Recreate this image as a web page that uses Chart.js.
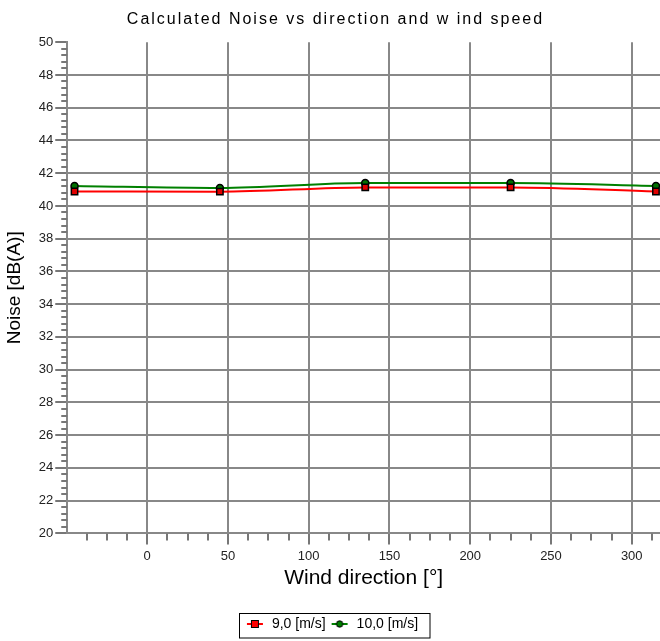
<!DOCTYPE html>
<html>
<head>
<meta charset="utf-8">
<script src="https://cdn.jsdelivr.net/npm/chart.js@4"></script>
<style>
  html, body { margin: 0; padding: 0; background: #fff; }
  #wrap { width: 660px; height: 641px; }
</style>
</head>
<body>
<div id="wrap"><canvas id="chart"></canvas></div>
<script>
// wind direction in degrees, noise in dB(A)
const directions = [-45, 45, 135, 225, 315];
const noise9 = [40.88, 40.87, 41.13, 41.13, 40.88];
const noise10 = [41.22, 41.1, 41.4, 41.4, 41.22];
const seriesNames = ['9,0 [m/s]', '10,0 [m/s]'];
const xTickValues = [0, 50, 100, 150, 200, 250, 300];
const yTickValues = [20, 22, 24, 26, 28, 30, 32, 34, 36, 38, 40, 42, 44, 46, 48, 50];

const FONT = "'Liberation Sans', Arial, sans-serif";

// small icon: short line with marker, used as legend point style
function legendIcon(color, shape) {
    const c = document.createElement('canvas');
    c.width = 22; c.height = 12;
    const g = c.getContext('2d');
    g.strokeStyle = color; g.lineWidth = 2;
    g.beginPath(); g.moveTo(4, 6); g.lineTo(20, 6); g.stroke();
    g.fillStyle = color; g.strokeStyle = '#000'; g.lineWidth = 1;
    if (shape === 'rect') {
        g.fillRect(8.5, 2.5, 7, 7); g.strokeRect(8.5, 2.5, 7, 7);
    } else {
        g.beginPath(); g.arc(12, 6, 3.2, 0, Math.PI * 2); g.fill(); g.stroke();
    }
    return c;
}

// the title in the original is set with wide letter spacing
const titleSpacing = {
    id: 'titleSpacing',
    beforeUpdate(chart) {
        const tb = chart.titleBlock;
        if (!tb || tb._spaced) return;
        const draw = tb.draw.bind(tb);
        tb.draw = function (area) {
            this.ctx.save();
            this.ctx.letterSpacing = '2px';
            this.ctx.translate(5, 0);
            draw(area);
            this.ctx.restore();
        };
        tb._spaced = true;
    }
};

const minorTicks = {
    id: 'minorTicks',
    afterDraw(chart) {
        const { ctx, scales: { x, y } } = chart;
        ctx.save();
        ctx.strokeStyle = '#777';
        ctx.lineWidth = 2;
        ctx.beginPath();
        for (let i = 1; i * 12.5 - 50 <= x.max; i++) {
            const v = i * 12.5 - 50;
            if (i % 4 === 0 || v < x.min) continue;
            const px = Math.round(x.getPixelForValue(v));
            ctx.moveTo(px, y.bottom); ctx.lineTo(px, y.bottom + 7);
        }
        for (let i = 1; i < 75; i++) {
            if (i % 5 === 0) continue;
            const py = Math.round(y.getPixelForValue(20 + i * 0.4));
            ctx.moveTo(x.left - 6, py); ctx.lineTo(x.left, py);
        }
        ctx.stroke();
        ctx.restore();
    }
};

const legendBox = {
    id: 'legendBox',
    afterDraw(chart) {
        const boxes = chart.legend.legendHitBoxes;
        if (!boxes || !boxes.length) return;
        const left = Math.min(...boxes.map(b => b.left));
        const right = Math.max(...boxes.map(b => b.left + b.width));
        const top = Math.min(...boxes.map(b => b.top));
        const bottom = Math.max(...boxes.map(b => b.top + b.height));
        const ctx = chart.ctx;
        ctx.save();
        ctx.strokeStyle = '#000';
        ctx.lineWidth = 1;
        const x0 = Math.round(left - 4) + 0.5;
        const y0 = Math.round(top - 4) + 0.5;
        ctx.strokeRect(x0, y0, Math.round(right + 12) - x0, Math.round(bottom + 7) - y0);
        ctx.restore();
    }
};

new Chart(document.getElementById('chart'), {
    type: 'line',
    data: {
        datasets: [
            {
                label: seriesNames[0],
                data: directions.map((d, i) => ({ x: d, y: noise9[i] })),
                borderColor: '#ff0000',
                backgroundColor: '#e00000',
                borderWidth: 2,
                pointStyle: 'rect',
                pointRadius: 4.5,
                pointBorderColor: '#000',
                pointBorderWidth: 1.5,
                cubicInterpolationMode: 'monotone',
            },
            {
                label: seriesNames[1],
                data: directions.map((d, i) => ({ x: d, y: noise10[i] })),
                borderColor: '#008000',
                backgroundColor: '#007000',
                borderWidth: 2,
                pointStyle: 'circle',
                pointRadius: 3.5,
                pointBorderColor: '#000',
                pointBorderWidth: 1.5,
                cubicInterpolationMode: 'monotone',
            },
        ],
    },
    options: {
        responsive: true,
        maintainAspectRatio: false,
        animation: false,
        layout: { autoPadding: false, padding: { left: 1, right: 0, top: 5, bottom: 0 } },
        plugins: {
            title: {
                display: true,
                text: 'Calculated Noise vs direction and w ind speed',
                color: '#000',
                font: { family: FONT, size: 16, weight: 'normal' },
                padding: { top: 5, bottom: 13 },
            },
            legend: {
                position: 'bottom',
                labels: {
                    color: '#000',
                    font: { family: FONT, size: 14 },
                    usePointStyle: true,
                    pointStyleWidth: 22,
                    padding: 2,
                    generateLabels(chart) {
                        return chart.data.datasets.map((ds, i) => ({
                            text: ds.label,
                            pointStyle: legendIcon(ds.borderColor, ds.pointStyle),
                            fillStyle: ds.backgroundColor,
                            strokeStyle: ds.borderColor,
                            lineWidth: 0,
                            datasetIndex: i,
                            hidden: false,
                        }));
                    },
                },
            },
            tooltip: { enabled: false },
        },
        scales: {
            x: {
                type: 'linear',
                min: -49.5,
                max: 317.5,
                afterBuildTicks(scale) {
                    scale.ticks = xTickValues.map(v => ({ value: v }));
                },
                title: {
                    display: true,
                    text: 'Wind direction [°]',
                    color: '#000',
                    font: { family: FONT, size: 21, lineHeight: 1.0 },
                    padding: { top: 0, bottom: 26 },
                },
                ticks: {
                    color: '#222',
                    font: { family: FONT, size: 13 },
                    padding: 4,
                    maxRotation: 0,
                },
                grid: { color: '#888', lineWidth: 2, tickLength: 11, tickColor: '#777' },
                border: { color: '#888', width: 2 },
            },
            y: {
                type: 'linear',
                min: 20,
                max: 50,
                afterBuildTicks(scale) {
                    scale.ticks = yTickValues.map(v => ({ value: v }));
                },
                title: {
                    display: true,
                    text: 'Noise [dB(A)]',
                    color: '#000',
                    font: { family: FONT, size: 19 },
                    padding: { top: 2, bottom: 11 },
                },
                ticks: {
                    color: '#222',
                    font: { family: FONT, size: 13 },
                    padding: 2,
                },
                grid: {
                    color: (c) => (c.tick && c.tick.value === 50 ? 'rgba(0,0,0,0)' : '#888'),
                    lineWidth: 2,
                    tickLength: 12,
                    tickColor: '#777',
                },
                border: { color: '#888', width: 2 },
            },
        },
    },
    plugins: [titleSpacing, minorTicks, legendBox],
});
</script>
</body>
</html>
